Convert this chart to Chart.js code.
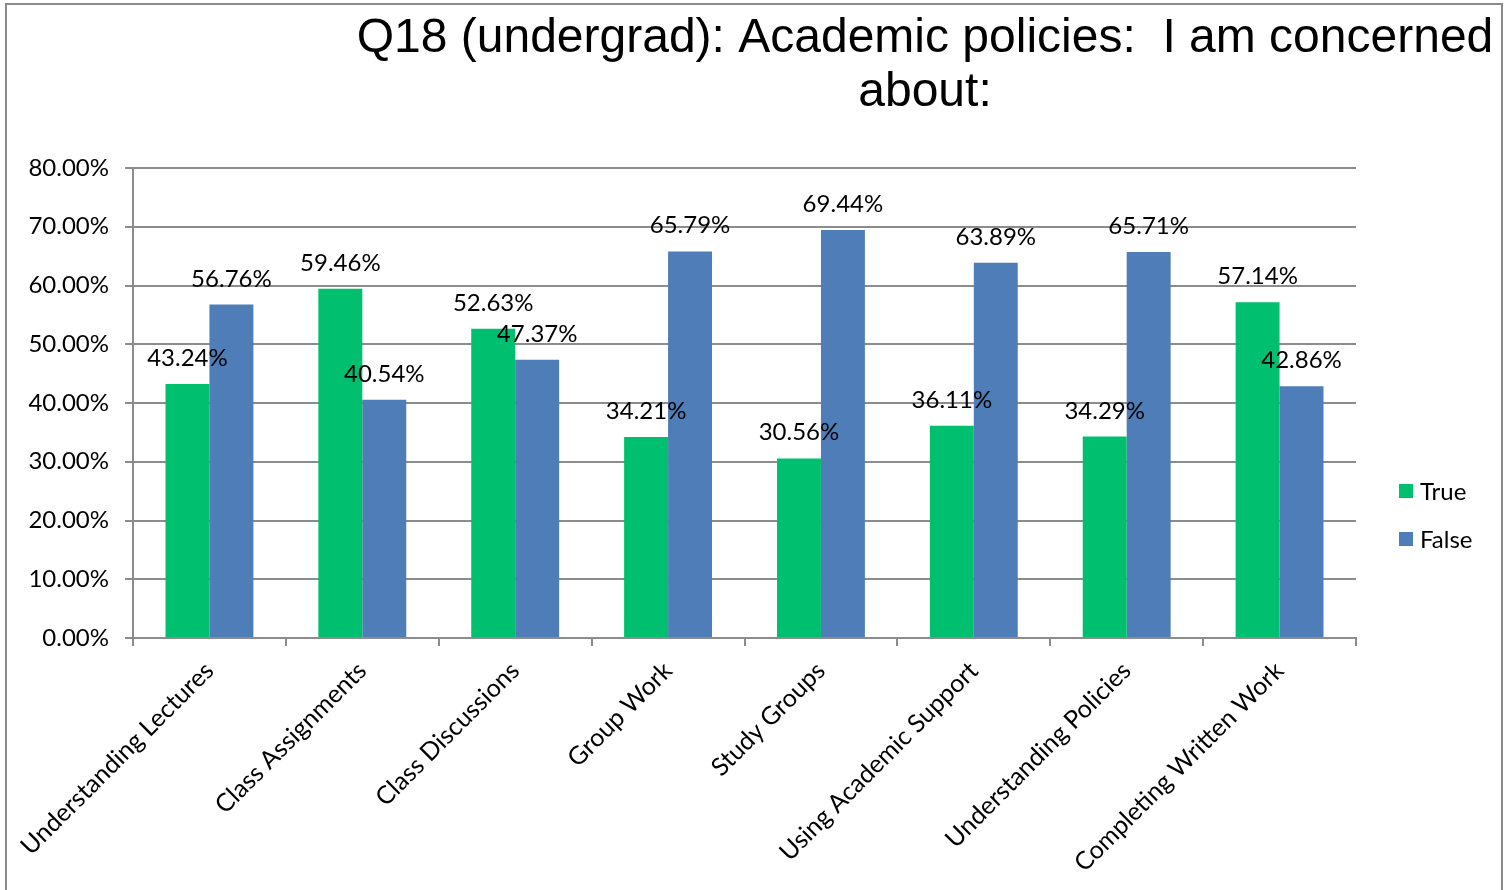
<!DOCTYPE html>
<html>
<head>
<meta charset="utf-8">
<script src="https://cdn.jsdelivr.net/npm/chart.js@4.4.1/dist/chart.umd.min.js"></script>
<style>
  html, body { margin: 0; padding: 0; background: #fff; overflow: hidden; }
  #wrap { position: relative; width: 1507px; height: 890px; }
  #frame {
    position: absolute; left: 5px; top: 3px; width: 1498px; height: 900px;
    border: 2px solid #8c8c8c; border-bottom: none; box-sizing: border-box;
    pointer-events: none;
  }
</style>
</head>
<body>
<div id="wrap">
  <canvas id="chart" width="1507" height="890"></canvas>
  <div id="frame"></div>
</div>
<script>
// Datos del gráfico
const categories = [
  'Understanding Lectures', 'Class Assignments', 'Class Discussions', 'Group Work',
  'Study Groups', 'Using Academic Support', 'Understanding Policies', 'Completing Written Work'
];
const trueValues = [43.24, 59.46, 52.63, 34.21, 30.56, 36.11, 34.29, 57.14];
const falseValues = [56.76, 40.54, 47.37, 65.79, 69.44, 63.89, 65.71, 42.86];
const seriesNames = ['True', 'False'];
const seriesColors = ['#00BF6F', '#4F7DB8'];
const titleLines = ['Q18 (undergrad): Academic policies:  I am concerned', 'about:'];

const fontFamily = 'Lato, "Open Sans", sans-serif';
const labelFont = '24px ' + fontFamily;
const gridColor = '#8c8c8c';

// Título, leyenda y etiquetas de datos dibujados a mano
const extrasPlugin = {
  id: 'extras',
  afterDatasetsDraw(chart) {
    const ctx = chart.ctx;
    ctx.save();
    // etiquetas de datos
    ctx.font = labelFont;
    ctx.fillStyle = '#000';
    ctx.textAlign = 'center';
    ctx.textBaseline = 'alphabetic';
    chart.data.datasets.forEach((ds, i) => {
      chart.getDatasetMeta(i).data.forEach((bar, j) => {
        ctx.fillText(ds.data[j].toFixed(2) + '%', bar.x, bar.y - 18);
      });
    });
    // título
    ctx.font = '48px "Liberation Sans", Arial, sans-serif';
    ctx.textBaseline = 'middle';
    titleLines.forEach((line, k) => ctx.fillText(line, 925, 39 + k * 54));
    // leyenda
    ctx.font = labelFont;
    ctx.textAlign = 'left';
    seriesNames.forEach((name, k) => {
      const y = 491 + k * 48;
      ctx.fillStyle = seriesColors[k];
      ctx.fillRect(1399, y - 7, 14, 14);
      ctx.fillStyle = '#000';
      ctx.fillText(name, 1420, y + 1);
    });
    ctx.restore();
  }
};

new Chart(document.getElementById('chart'), {
  type: 'bar',
  data: {
    labels: categories,
    datasets: [
      { label: seriesNames[0], data: trueValues, backgroundColor: seriesColors[0] },
      { label: seriesNames[1], data: falseValues, backgroundColor: seriesColors[1] }
    ]
  },
  options: {
    responsive: false,
    animation: false,
    layout: { padding: { top: 168, right: 151, left: 0, bottom: 0 } },
    datasets: { bar: { categoryPercentage: 0.575, barPercentage: 1 } },
    plugins: {
      legend: { display: false },
      title: { display: false },
      tooltip: { enabled: false }
    },
    scales: {
      x: {
        grid: { display: true, drawOnChartArea: false, color: gridColor, lineWidth: 2, tickLength: 8 },
        border: { color: gridColor, width: 2 },
        ticks: {
          autoSkip: false, minRotation: 45, maxRotation: 45, padding: 10,
          color: '#000', font: { family: fontFamily, size: 25 }
        },
        afterFit(scale) { scale.height = 252; scale.paddingLeft = 0; scale.paddingRight = 0; }
      },
      y: {
        min: 0, max: 80,
        grid: { color: gridColor, lineWidth: 2, tickLength: 8 },
        border: { color: gridColor, width: 2 },
        ticks: {
          stepSize: 10, padding: 16, color: '#000',
          font: { family: fontFamily, size: 24 },
          callback: v => v.toFixed(2) + '%'
        },
        afterFit(scale) { scale.width = 133; }
      }
    }
  },
  plugins: [extrasPlugin]
});
</script>
</body>
</html>
